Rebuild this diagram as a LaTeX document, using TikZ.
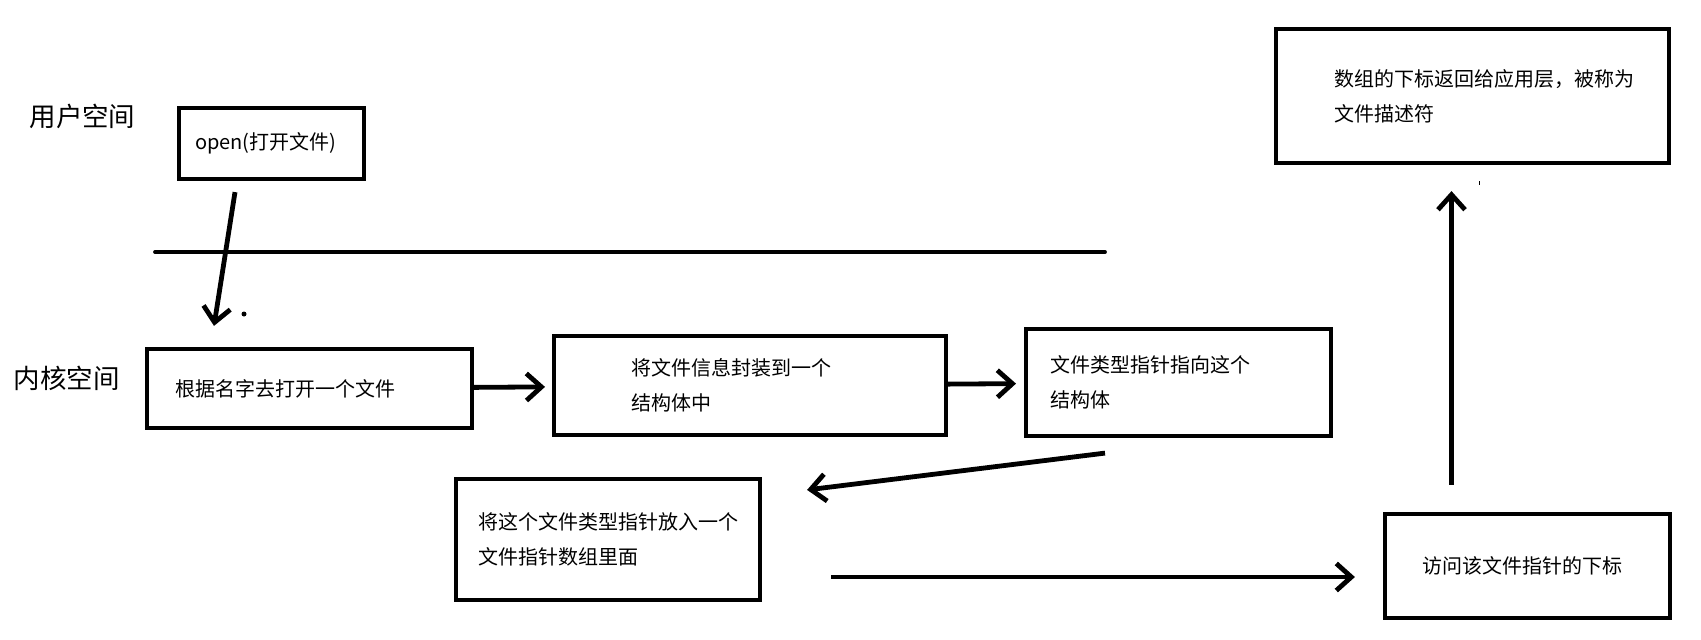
\documentclass[tikz,border=0pt]{standalone}
\usepackage{fontspec}
\setmainfont{Noto Sans CJK SC}
\usetikzlibrary{arrows.meta}

\begin{document}
\begin{tikzpicture}[x=1pt, y=-1pt, node distance=100pt,
    caja/.style={draw, rectangle, line width=4.2pt, align=left, inner ysep=0pt,
        font=\fontsize{20pt}{35pt}\selectfont},
    flecha/.style={-{Straight Barb[length=15pt,width=27pt]}, line width=4.8pt},
    etiqueta/.style={font=\fontsize{26.5pt}{30pt}\selectfont}]
    \useasboundingbox (0,0) rectangle (1701,640);

    % Cajas principales
    \node (abrir) [caja] at (309.5,388.5) [text width=269pt, inner xsep=27.9pt, minimum height=78.8pt]
    {根据名字去打开一个文件};

    \node (encapsular) [caja, right of=abrir, xshift=340.5pt, yshift=3pt, text width=238pt, inner xsep=76.9pt, minimum height=98.8pt]
    {将文件信息封装到一个\\结构体中};

    \node (puntero) [caja, right of=encapsular, xshift=328.5pt, yshift=3pt, text width=257pt, inner xsep=23.9pt, minimum height=106.8pt]
    {文件类型指针指向这个\\结构体};

    \node (arreglo) [caja, below of=abrir, xshift=298.5pt, yshift=-51pt, text width=260pt, inner xsep=21.9pt, minimum height=120.8pt]
    {将这个文件类型指针放入一个\\文件指针数组里面};

    \node (indice) [caja, right of=arreglo, xshift=819.5pt, yshift=-26.5pt, text width=211pt, inner xsep=36.9pt, minimum height=103.8pt]
    {访问该文件指针的下标};

    \node (descriptor) [caja, above of=indice, xshift=-55pt, yshift=370pt, text width=277pt, inner xsep=57.9pt, minimum height=133.8pt]
    {数组的下标返回给应用层，被称为\\文件描述符};

    \node (open) [caja, above of=abrir, xshift=-38pt, yshift=145pt, text width=153pt, inner xsep=15.9pt, minimum height=70.8pt]
    {open(打开文件)};

    % Etiquetas y linea divisoria
    \node (usuario) [etiqueta] at (82.5,116) {用户空间};
    \node (nucleo) [etiqueta] at (66.5,378.5) {内核空间};
    \draw[line width=3.8pt, line cap=round] (155,252) -- (1105,252);
    \fill (244,314) circle[radius=2.5pt];
    \draw[line width=1pt] (1479,181) -- (1479,185);

    % Flechas de conexion
    \draw[flecha] ([xshift=-36.5pt,yshift=-11.1pt]open.south) -- ([xshift=-95.5pt,yshift=21.1pt]abrir.north);
    \draw[flecha, shorten >=7pt] (abrir) -- (encapsular);
    \draw[flecha, shorten >=8pt] (encapsular) -- (puntero);
    \draw[flecha] ([xshift=-73.5pt,yshift=-15.1pt]puntero.south) -- ([xshift=45.1pt,yshift=-12.9pt]arreglo.north east);
    \draw[flecha] ([xshift=69.1pt,yshift=-37.5pt]arreglo.east) -- ([xshift=-28.1pt,yshift=-11pt]indice.west);
    \draw[flecha] ([xshift=-76pt,yshift=27.1pt]indice.north) -- ([xshift=-21pt,yshift=-26.1pt]descriptor.south);
\end{tikzpicture}
\end{document}
